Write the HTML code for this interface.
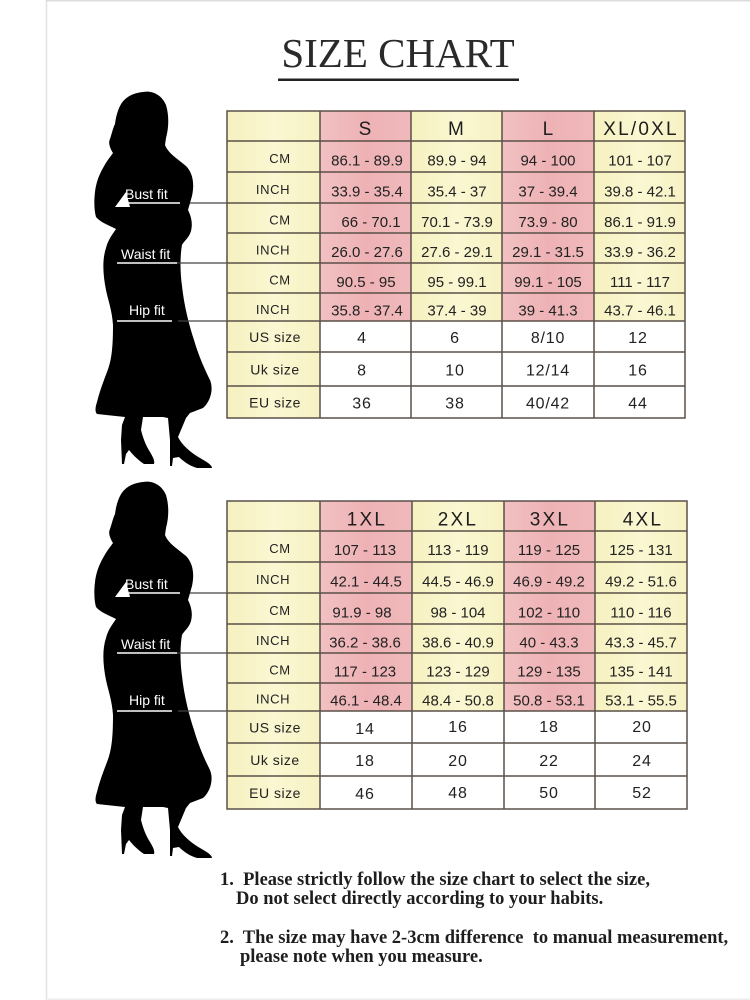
<!DOCTYPE html>
<html>
<head>
<meta charset="utf-8">
<style>
  html, body { margin: 0; padding: 0; background: #ffffff; }
  body { width: 750px; height: 1000px; overflow: hidden; }
  svg { display: block; }
  .hd { font-family: "Liberation Sans", sans-serif; font-size: 19px; fill: #1e1e1e; text-anchor: middle; letter-spacing: 2.2px; }
  .lb { font-family: "Liberation Sans", sans-serif; font-size: 13px; fill: #222; text-anchor: middle; letter-spacing: 0.6px; }
  .lb2 { font-family: "Liberation Sans", sans-serif; font-size: 14px; fill: #222; text-anchor: middle; letter-spacing: 0.5px; }
  .dt { font-family: "Liberation Sans", sans-serif; font-size: 15px; fill: #222; text-anchor: middle; }
  .nm { font-family: "Liberation Sans", sans-serif; font-size: 16px; fill: #222; text-anchor: middle; letter-spacing: 0.8px; }
  .fit { font-family: "Liberation Sans", sans-serif; font-size: 14px; fill: #ffffff; }
  .note { font-family: "Liberation Serif", serif; font-size: 18.5px; font-weight: bold; fill: #1e1e1e; white-space: pre; }
</style>
</head>
<body>
<svg width="750" height="1000" viewBox="0 0 750 1000" xmlns="http://www.w3.org/2000/svg">
  <!-- frame -->
  <line x1="46.5" y1="0" x2="46.5" y2="1000" stroke="#e2e2e2" stroke-width="1.5"/>
  <line x1="46" y1="0.75" x2="750" y2="0.75" stroke="#dcdcdc" stroke-width="1.5"/>
  <line x1="46" y1="999.3" x2="750" y2="999.3" stroke="#ececec" stroke-width="1.5"/>

  <!-- title -->
  <text x="398" y="67" font-family="Liberation Serif, serif" font-size="41" fill="#2a2a2a" text-anchor="middle">SIZE CHART</text>
  <rect x="278" y="78.5" width="241" height="2.5" fill="#222"/>

  <defs>
    <linearGradient id="pk" x1="0" y1="0" x2="1" y2="0">
      <stop offset="0" stop-color="#f2c1c2"/>
      <stop offset="0.5" stop-color="#eeb2b5"/>
      <stop offset="1" stop-color="#f0b9bb"/>
    </linearGradient>
    <linearGradient id="yl" x1="0" y1="0" x2="1" y2="0">
      <stop offset="0" stop-color="#f6f1c0"/>
      <stop offset="0.5" stop-color="#faf7d2"/>
      <stop offset="1" stop-color="#f7f2c4"/>
    </linearGradient>
    <path id="lady" d="M143,92 C152,90 162,95 166,105 C169,115 169,127 166,138 L165,145 C167,150 171,154 176,158 L186,166 C192,172 195,182 192,196 L188,210 C191,216 193,223 191,231 C189,238 184,241 182,245 C180,256 180,272 182,286 C184,305 189,325 194,340 C199,357 205,370 210,380 C214,390 210,402 203,408 L190,413 L186,418 L178,437 C182,445 190,452 200,458 C207,462 212,465 212,468 L197,468 C190,466 184,462 179,457 L173,458 L172,466 L170,466 L170,440 L168,418 L163,417 L143,417 L141,430 C143,438 146,446 150,452 C153,457 155,461 154,464 L144,464 C138,460 133,455 129,450 L126,454 L124,464 L122,464 L121,440 L122,425 L125,417 L97,414 C95,412 95,408 97,402 C100,390 104,380 107,372 C112,360 113,345 113,325 C112,310 108,300 106,290 C103,275 102,260 106,248 C108,240 112,235 116,229 C108,225 100,222 96,217 C94,210 94,200 95,192 C96,183 99,175 103,168 C106,162 110,157 113,153 C110,148 108,143 110,139 C112,133 113,128 115,124 C116,116 118,110 120,106 C124,98 132,93 143,92 Z"/>
  </defs>

  <!-- ================= TOP BLOCK ================= -->
  <g>
    <use href="#lady" fill="#000"/>
    <polygon points="115,207 126,192 130,207" fill="#fff"/>
    <text class="fit" x="125" y="199">Bust fit</text>
    <text class="fit" x="121" y="259">Waist fit</text>
    <text class="fit" x="129" y="315">Hip fit</text>
    <line x1="125" y1="203" x2="180" y2="203" stroke="#fff" stroke-width="1.5"/>
    <line x1="117" y1="263" x2="177" y2="263" stroke="#fff" stroke-width="1.5"/>
    <line x1="117" y1="321" x2="172" y2="321" stroke="#fff" stroke-width="1.5"/>
    <line x1="190" y1="203" x2="227" y2="203" stroke="#444" stroke-width="1.2"/>
    <line x1="177" y1="263" x2="227" y2="263" stroke="#444" stroke-width="1.2"/>
    <line x1="178" y1="321" x2="227" y2="321" stroke="#444" stroke-width="1.2"/>
  </g>

  <!-- top table backgrounds -->
  <rect x="227" y="111" width="93" height="307" fill="url(#yl)"/>
  <rect x="320" y="111" width="91" height="210" fill="url(#pk)"/>
  <rect x="411" y="111" width="91" height="210" fill="url(#yl)"/>
  <rect x="502" y="111" width="92" height="210" fill="url(#pk)"/>
  <rect x="594" y="111" width="91" height="210" fill="url(#yl)"/>
  <rect x="320" y="321" width="365" height="97" fill="#ffffff"/>
  <!-- grid -->
  <g stroke="#5a5048" stroke-width="1.5" fill="none">
    <rect x="227" y="111" width="458" height="307"/>
    <line x1="320" y1="111" x2="320" y2="418"/>
    <line x1="411" y1="111" x2="411" y2="418"/>
    <line x1="502" y1="111" x2="502" y2="418"/>
    <line x1="594" y1="111" x2="594" y2="418"/>
    <line x1="227" y1="141" x2="685" y2="141"/>
    <line x1="227" y1="172" x2="685" y2="172"/>
    <line x1="227" y1="203" x2="685" y2="203"/>
    <line x1="227" y1="233" x2="685" y2="233"/>
    <line x1="227" y1="263" x2="685" y2="263"/>
    <line x1="227" y1="293" x2="685" y2="293"/>
    <line x1="227" y1="321" x2="685" y2="321"/>
    <line x1="227" y1="352" x2="685" y2="352"/>
    <line x1="227" y1="386" x2="685" y2="386"/>
  </g>
  <!-- header -->
  <text class="hd" x="366" y="135">S</text>
  <text class="hd" x="457" y="135">M</text>
  <text class="hd" x="549" y="135">L</text>
  <text class="hd" x="641" y="135">XL/0XL</text>
  <!-- labels -->
  <text class="lb" x="280" y="163">CM</text>
  <text class="lb" x="273" y="194">INCH</text>
  <text class="lb" x="280" y="224.5">CM</text>
  <text class="lb" x="273" y="254.5">INCH</text>
  <text class="lb" x="280" y="284.5">CM</text>
  <text class="lb" x="273" y="314">INCH</text>
  <text class="lb2" x="275" y="342">US size</text>
  <text class="lb2" x="275" y="374.5">Uk size</text>
  <text class="lb2" x="275" y="407.5">EU size</text>
  <!-- data -->
  <text class="dt" x="367" y="165.5">86.1 - 89.9</text>
  <text class="dt" x="457" y="165.5">89.9 - 94</text>
  <text class="dt" x="548" y="165.5">94 - 100</text>
  <text class="dt" x="640" y="165.5">101 - 107</text>

  <text class="dt" x="367" y="196.5">33.9 - 35.4</text>
  <text class="dt" x="457" y="196.5">35.4 - 37</text>
  <text class="dt" x="548" y="196.5">37 - 39.4</text>
  <text class="dt" x="640" y="196.5">39.8 - 42.1</text>

  <text class="dt" x="371" y="227">66 - 70.1</text>
  <text class="dt" x="457" y="227">70.1 - 73.9</text>
  <text class="dt" x="548" y="227">73.9 - 80</text>
  <text class="dt" x="640" y="227">86.1 - 91.9</text>

  <text class="dt" x="367" y="257">26.0 - 27.6</text>
  <text class="dt" x="457" y="257">27.6 - 29.1</text>
  <text class="dt" x="548" y="257">29.1 - 31.5</text>
  <text class="dt" x="640" y="257">33.9 - 36.2</text>

  <text class="dt" x="366" y="287">90.5 - 95</text>
  <text class="dt" x="457" y="287">95 - 99.1</text>
  <text class="dt" x="548" y="287">99.1 - 105</text>
  <text class="dt" x="640" y="287">111 - 117</text>

  <text class="dt" x="367" y="315.5">35.8 - 37.4</text>
  <text class="dt" x="457" y="315.5">37.4 - 39</text>
  <text class="dt" x="548" y="315.5">39 - 41.3</text>
  <text class="dt" x="640" y="315.5">43.7 - 46.1</text>

  <text class="nm" x="362" y="343">4</text>
  <text class="nm" x="455" y="343">6</text>
  <text class="nm" x="548" y="343">8/10</text>
  <text class="nm" x="638" y="343">12</text>

  <text class="nm" x="362" y="375.5">8</text>
  <text class="nm" x="455" y="375.5">10</text>
  <text class="nm" x="548" y="375.5">12/14</text>
  <text class="nm" x="638" y="375.5">16</text>

  <text class="nm" x="362" y="408.5">36</text>
  <text class="nm" x="455" y="408.5">38</text>
  <text class="nm" x="548" y="408.5">40/42</text>
  <text class="nm" x="638" y="408.5">44</text>

  <!-- ================= BOTTOM BLOCK ================= -->
  <g transform="translate(0,390)">
    <use href="#lady" fill="#000"/>
    <polygon points="115,207 126,192 130,207" fill="#fff"/>
    <text class="fit" x="125" y="199">Bust fit</text>
    <text class="fit" x="121" y="259">Waist fit</text>
    <text class="fit" x="129" y="315">Hip fit</text>
    <line x1="125" y1="203" x2="180" y2="203" stroke="#fff" stroke-width="1.5"/>
    <line x1="117" y1="263" x2="177" y2="263" stroke="#fff" stroke-width="1.5"/>
    <line x1="117" y1="321" x2="172" y2="321" stroke="#fff" stroke-width="1.5"/>
    <line x1="190" y1="203" x2="227" y2="203" stroke="#444" stroke-width="1.2"/>
    <line x1="177" y1="263" x2="227" y2="263" stroke="#444" stroke-width="1.2"/>
    <line x1="178" y1="321" x2="227" y2="321" stroke="#444" stroke-width="1.2"/>
  </g>

  <rect x="227" y="501" width="93" height="308" fill="url(#yl)"/>
  <rect x="320" y="501" width="92" height="210" fill="url(#pk)"/>
  <rect x="412" y="501" width="92" height="210" fill="url(#yl)"/>
  <rect x="504" y="501" width="91" height="210" fill="url(#pk)"/>
  <rect x="595" y="501" width="92" height="210" fill="url(#yl)"/>
  <rect x="320" y="711" width="367" height="98" fill="#ffffff"/>
  <g stroke="#5a5048" stroke-width="1.5" fill="none">
    <rect x="227" y="501" width="460" height="308"/>
    <line x1="320" y1="501" x2="320" y2="809"/>
    <line x1="412" y1="501" x2="412" y2="809"/>
    <line x1="504" y1="501" x2="504" y2="809"/>
    <line x1="595" y1="501" x2="595" y2="809"/>
    <line x1="227" y1="531" x2="687" y2="531"/>
    <line x1="227" y1="562" x2="687" y2="562"/>
    <line x1="227" y1="593" x2="687" y2="593"/>
    <line x1="227" y1="624" x2="687" y2="624"/>
    <line x1="227" y1="653" x2="687" y2="653"/>
    <line x1="227" y1="683" x2="687" y2="683"/>
    <line x1="227" y1="711" x2="687" y2="711"/>
    <line x1="227" y1="743" x2="687" y2="743"/>
    <line x1="227" y1="776" x2="687" y2="776"/>
  </g>
  <text class="hd" x="367" y="525.5">1XL</text>
  <text class="hd" x="458" y="525.5">2XL</text>
  <text class="hd" x="550" y="525.5">3XL</text>
  <text class="hd" x="643" y="525.5">4XL</text>

  <text class="lb" x="280" y="553">CM</text>
  <text class="lb" x="273" y="584">INCH</text>
  <text class="lb" x="280" y="615">CM</text>
  <text class="lb" x="273" y="645">INCH</text>
  <text class="lb" x="280" y="674.5">CM</text>
  <text class="lb" x="273" y="703.5">INCH</text>
  <text class="lb2" x="275" y="732.5">US size</text>
  <text class="lb2" x="275" y="765">Uk size</text>
  <text class="lb2" x="275" y="798">EU size</text>

  <text class="dt" x="365" y="555">107 - 113</text>
  <text class="dt" x="458" y="555">113 - 119</text>
  <text class="dt" x="549" y="555">119 - 125</text>
  <text class="dt" x="641" y="555">125 - 131</text>

  <text class="dt" x="366" y="586.5">42.1 - 44.5</text>
  <text class="dt" x="458" y="586.5">44.5 - 46.9</text>
  <text class="dt" x="549" y="586.5">46.9 - 49.2</text>
  <text class="dt" x="641" y="586.5">49.2 - 51.6</text>

  <text class="dt" x="362" y="617.5">91.9 - 98</text>
  <text class="dt" x="458" y="617.5">98 - 104</text>
  <text class="dt" x="549" y="617.5">102 - 110</text>
  <text class="dt" x="641" y="617.5">110 - 116</text>

  <text class="dt" x="365" y="647.5">36.2 - 38.6</text>
  <text class="dt" x="458" y="647.5">38.6 - 40.9</text>
  <text class="dt" x="549" y="647.5">40 - 43.3</text>
  <text class="dt" x="641" y="647.5">43.3 - 45.7</text>

  <text class="dt" x="365" y="676.5">117 - 123</text>
  <text class="dt" x="458" y="676.5">123 - 129</text>
  <text class="dt" x="549" y="676.5">129 - 135</text>
  <text class="dt" x="641" y="676.5">135 - 141</text>

  <text class="dt" x="366" y="705.5">46.1 - 48.4</text>
  <text class="dt" x="458" y="705.5">48.4 - 50.8</text>
  <text class="dt" x="549" y="705.5">50.8 - 53.1</text>
  <text class="dt" x="641" y="705.5">53.1 - 55.5</text>

  <text class="nm" x="365" y="734">14</text>
  <text class="nm" x="458" y="732">16</text>
  <text class="nm" x="549" y="732">18</text>
  <text class="nm" x="642" y="732">20</text>

  <text class="nm" x="365" y="766">18</text>
  <text class="nm" x="458" y="766">20</text>
  <text class="nm" x="549" y="766">22</text>
  <text class="nm" x="642" y="766">24</text>

  <text class="nm" x="365" y="799">46</text>
  <text class="nm" x="458" y="798">48</text>
  <text class="nm" x="549" y="798">50</text>
  <text class="nm" x="642" y="798">52</text>

  <!-- notes -->
  <text class="note" x="220" y="885">1.  Please strictly follow the size chart to select the size,</text>
  <text class="note" x="236" y="904">Do not select directly according to your habits.</text>
  <text class="note" x="220" y="943">2.  The size may have 2-3cm difference  to manual measurement,</text>
  <text class="note" x="240" y="962">please note when you measure.</text>
</svg>
</body>
</html>
